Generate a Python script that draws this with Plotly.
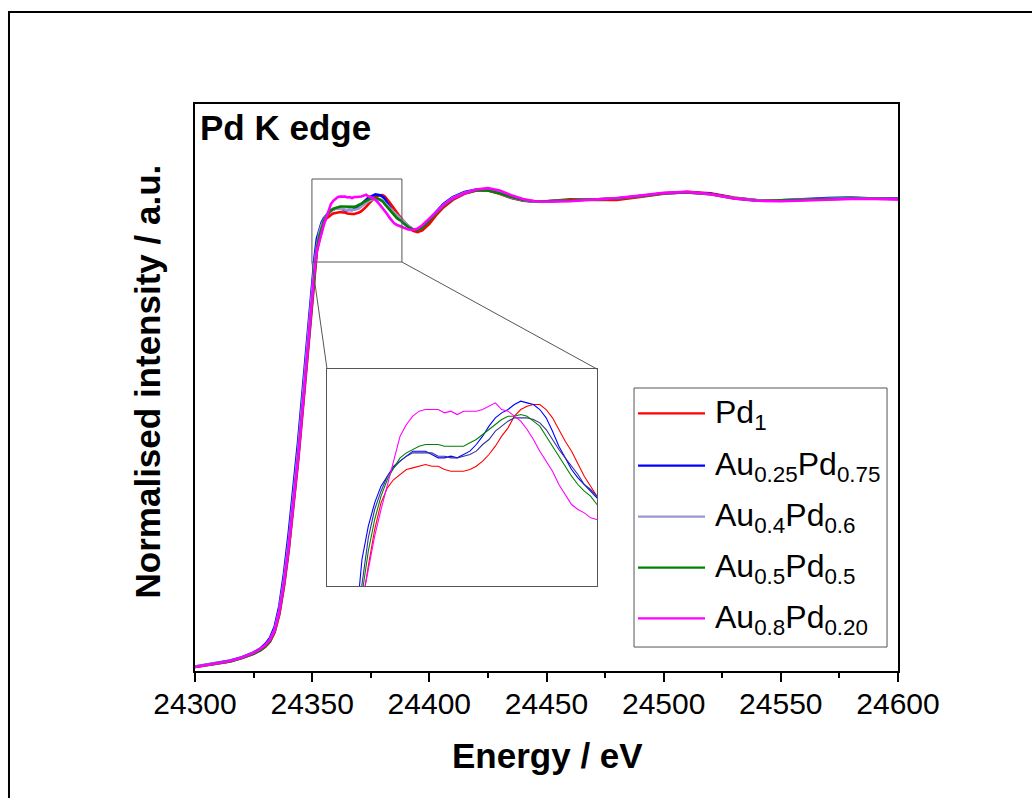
import plotly.graph_objects as go

# Photon energy grid (eV)
energy = [
    24300, 24305, 24310, 24315, 24320, 24325, 24328, 24330, 24332, 24334,
    24336, 24338, 24340, 24342, 24344, 24346, 24348, 24350, 24351,
    24352, 24353, 24354, 24355, 24356, 24357, 24358, 24359, 24360, 24361,
    24362, 24363, 24364, 24365, 24366, 24367, 24368, 24369, 24370, 24371,
    24372, 24373, 24374, 24375, 24376, 24377, 24378, 24379, 24380, 24381,
    24382, 24383, 24384, 24385, 24386, 24387, 24388, 24389,
    24391, 24393, 24395, 24397, 24400, 24403, 24406, 24410, 24415, 24420,
    24425, 24430, 24435, 24440, 24445, 24450, 24460, 24470, 24480, 24490,
    24500, 24510, 24520, 24530, 24540, 24550, 24560, 24570, 24580, 24590, 24600,
]

# Normalised absorption for each sample
pd1 = [
    0.000, 0.004, 0.008, 0.012, 0.019, 0.028, 0.036, 0.043, 0.054, 0.074,
    0.112, 0.172, 0.248, 0.338, 0.438, 0.548, 0.665, 0.780, 0.838,
    0.885, 0.909, 0.931, 0.947, 0.956, 0.961, 0.964, 0.967, 0.968, 0.969,
    0.970, 0.969, 0.969, 0.967, 0.966, 0.966, 0.966, 0.967, 0.969, 0.972,
    0.976, 0.981, 0.987, 0.992, 0.999, 1.003, 1.005, 1.006, 1.006, 1.003,
    0.998, 0.991, 0.984, 0.978, 0.970, 0.963, 0.957, 0.951,
    0.939, 0.930, 0.927, 0.931, 0.945, 0.964, 0.980, 0.996, 1.009, 1.016,
    1.016, 1.009, 1.000, 0.994, 0.992, 0.993, 0.997, 0.996, 0.996, 1.002,
    1.009, 1.013, 1.010, 1.001, 0.995, 0.994, 0.996, 0.998, 0.999, 0.999, 0.998,
]
au25_pd75 = [
    0.001, 0.005, 0.009, 0.014, 0.021, 0.031, 0.040, 0.049, 0.062, 0.086,
    0.130, 0.200, 0.285, 0.380, 0.480, 0.592, 0.705, 0.820, 0.872,
    0.913, 0.933, 0.947, 0.957, 0.963, 0.969, 0.972, 0.975, 0.978, 0.978,
    0.978, 0.976, 0.974, 0.974, 0.975, 0.974, 0.976, 0.978, 0.982, 0.987,
    0.993, 0.998, 1.001, 1.003, 1.006, 1.008, 1.007, 1.006, 1.003, 0.998,
    0.990, 0.981, 0.974, 0.967, 0.962, 0.958, 0.954, 0.950,
    0.940, 0.933, 0.932, 0.938, 0.954, 0.971, 0.987, 1.002, 1.013, 1.018,
    1.017, 1.010, 1.001, 0.995, 0.992, 0.993, 0.995, 0.996, 0.999, 1.004,
    1.010, 1.012, 1.009, 1.000, 0.995, 0.995, 0.998, 1.000, 1.001, 0.999, 0.999,
]
au40_pd60 = [
    0.001, 0.005, 0.009, 0.013, 0.020, 0.030, 0.038, 0.046, 0.058, 0.080,
    0.122, 0.188, 0.268, 0.360, 0.462, 0.575, 0.690, 0.805, 0.858,
    0.898, 0.926, 0.943, 0.954, 0.963, 0.968, 0.972, 0.975, 0.977, 0.977,
    0.977, 0.977, 0.975, 0.975, 0.974, 0.974, 0.975, 0.976, 0.978, 0.982,
    0.985, 0.990, 0.993, 0.996, 0.998, 0.998, 0.998, 0.997, 0.995, 0.991,
    0.985, 0.979, 0.974, 0.969, 0.964, 0.958, 0.955, 0.951,
    0.941, 0.934, 0.932, 0.937, 0.952, 0.969, 0.985, 1.000, 1.011, 1.017,
    1.017, 1.010, 1.001, 0.995, 0.992, 0.993, 0.995, 0.996, 0.999, 1.004,
    1.010, 1.012, 1.008, 1.000, 0.995, 0.995, 0.997, 0.999, 1.000, 0.999, 0.998,
]
au50_pd50 = [
    0.000, 0.004, 0.008, 0.012, 0.019, 0.028, 0.036, 0.044, 0.055, 0.076,
    0.115, 0.177, 0.254, 0.345, 0.446, 0.556, 0.672, 0.788, 0.846,
    0.892, 0.918, 0.937, 0.951, 0.961, 0.968, 0.974, 0.977, 0.979, 0.981,
    0.982, 0.982, 0.982, 0.981, 0.981, 0.981, 0.981, 0.983, 0.985, 0.988,
    0.991, 0.994, 0.997, 0.999, 0.999, 1.000, 0.999, 0.996, 0.993, 0.987,
    0.981, 0.975, 0.969, 0.963, 0.958, 0.954, 0.951, 0.946,
    0.938, 0.933, 0.932, 0.936, 0.951, 0.968, 0.983, 0.998, 1.010, 1.016,
    1.016, 1.010, 1.002, 0.996, 0.993, 0.993, 0.995, 0.996, 0.999, 1.004,
    1.010, 1.012, 1.008, 0.999, 0.994, 0.995, 0.997, 0.998, 0.999, 0.999, 0.998,
]
au80_pd20 = [
    0.000, 0.004, 0.008, 0.013, 0.020, 0.030, 0.039, 0.047, 0.058, 0.078,
    0.118, 0.180, 0.255, 0.345, 0.445, 0.556, 0.675, 0.790, 0.845,
    0.887, 0.907, 0.927, 0.943, 0.958, 0.973, 0.987, 0.994, 0.999, 1.002,
    1.003, 1.003, 1.003, 1.001, 1.002, 1.000, 1.002, 1.002, 1.002, 1.003,
    1.005, 1.007, 1.003, 1.002, 0.999, 0.996, 0.991, 0.985, 0.978, 0.972,
    0.966, 0.958, 0.952, 0.946, 0.943, 0.941, 0.938, 0.937,
    0.933, 0.932, 0.935, 0.942, 0.955, 0.970, 0.985, 0.999, 1.010, 1.018,
    1.021, 1.016, 1.006, 0.998, 0.993, 0.992, 0.993, 0.996, 1.000, 1.005,
    1.011, 1.013, 1.008, 0.999, 0.994, 0.993, 0.995, 0.997, 0.998, 0.998, 0.997,
]

series = [pd1, au25_pd75, au40_pd60, au50_pd50, au80_pd20]
series_names = [
    "Pd<sub>1</sub>",
    "Au<sub>0.25</sub>Pd<sub>0.75</sub>",
    "Au<sub>0.4</sub>Pd<sub>0.6</sub>",
    "Au<sub>0.5</sub>Pd<sub>0.5</sub>",
    "Au<sub>0.8</sub>Pd<sub>0.20</sub>",
]
series_colors = ["#ff0000", "#0000ff", "#9999cc", "#008000", "#ff00ff"]
inset_colors = ["#ff0000", "#0000ff", "#333399", "#008000", "#ff00ff"]

x_ticks = [24300, 24350, 24400, 24450, 24500, 24550, 24600]

X_RANGE = [24300, 24600]
Y_RANGE = [-0.0085, 1.2004]
INSET_X = [24346.5, 24389.0]
INSET_Y = [0.8971, 1.0273]
INSET_DOMAIN_X = [0.1878, 0.5718]
INSET_DOMAIN_Y = [0.1499, 0.5326]
ZOOM_BOX = dict(x0=24349.9, x1=24388.3, y0=0.8635, y1=1.0405)

FONT = "Arial, Liberation Sans, sans-serif"

fig = go.Figure()

for vals, name, color in zip(series, series_names, series_colors):
    fig.add_trace(go.Scatter(
        x=energy, y=vals, mode="lines", name=name,
        line=dict(color=color, width=2.6), showlegend=False,
        xaxis="x", yaxis="y",
    ))

for vals, name, color in zip(series, series_names, inset_colors):
    fig.add_trace(go.Scatter(
        x=energy, y=vals, mode="lines", name=name,
        line=dict(color=color, width=1.1), showlegend=False,
        xaxis="x2", yaxis="y2",
    ))


def px(e):
    return (e - X_RANGE[0]) / (X_RANGE[1] - X_RANGE[0])


def py(v):
    return (v - Y_RANGE[0]) / (Y_RANGE[1] - Y_RANGE[0])


shapes = []
# outer frame around the whole figure
shapes.append(dict(type="rect", xref="paper", yref="paper",
                   x0=-0.2646, x1=1.2, y0=-0.23, y1=1.1623,
                   line=dict(color="black", width=2), layer="below"))
# zoom window on the white line
shapes.append(dict(type="rect", xref="x", yref="y", **ZOOM_BOX,
                   line=dict(color="#555555", width=1)))
# connectors from window to inset
for bx, ix in ((ZOOM_BOX["x0"], INSET_DOMAIN_X[0]), (ZOOM_BOX["x1"], INSET_DOMAIN_X[1])):
    shapes.append(dict(type="line", xref="paper", yref="paper",
                       x0=px(bx), y0=py(ZOOM_BOX["y0"]), x1=ix, y1=INSET_DOMAIN_Y[1],
                       line=dict(color="#555555", width=1)))

# legend
LEG_BOX = dict(x0=0.6245, x1=0.9844, y0=0.0423, y1=0.4991)
LEG_ROWS = [0.4545, 0.3621, 0.2722, 0.1822, 0.0929]
shapes.append(dict(type="rect", xref="paper", yref="paper", **LEG_BOX,
                   line=dict(color="#555555", width=1), fillcolor="white"))
annotations = []
for yrow, name, color in zip(LEG_ROWS, series_names, series_colors):
    shapes.append(dict(type="line", xref="paper", yref="paper",
                       x0=0.6302, x1=0.7255, y0=yrow, y1=yrow,
                       line=dict(color=color, width=2.2)))
    annotations.append(dict(xref="paper", yref="paper", x=0.7370, y=yrow,
                            xanchor="left", yanchor="middle", yshift=-1,
                            text=name, showarrow=False,
                            font=dict(family=FONT, size=32, color="black")))

annotations += [
    dict(xref="paper", yref="paper", x=0.502, y=-0.1499, xanchor="center",
         yanchor="middle", text="<b>Energy / eV</b>", showarrow=False,
         font=dict(family=FONT, size=35, color="black")),
    dict(xref="paper", yref="paper", x=-0.0669, y=0.5106, xanchor="center",
         yanchor="middle", text="<b>Normalised intensity / a.u.</b>",
         textangle=-90, showarrow=False,
         font=dict(family=FONT, size=35, color="black")),
    dict(xref="paper", yref="paper", x=0.0045, y=0.9577, xanchor="left",
         yanchor="middle", text="<b>Pd K edge</b>", showarrow=False,
         font=dict(family=FONT, size=35, color="black")),
]

fig.update_layout(
    width=1032, height=798, autosize=False,
    margin=dict(l=195, r=134, t=104, b=127),
    paper_bgcolor="white", plot_bgcolor="white",
    showlegend=False,
    font=dict(family=FONT, color="black"),
    xaxis=dict(
        range=X_RANGE, domain=[0, 1], anchor="y",
        showline=True, linecolor="black", linewidth=2, mirror=True,
        ticks="outside", ticklen=9, tickwidth=2, tickcolor="black",
        tickvals=x_ticks, ticktext=[str(t) for t in x_ticks],
        tickfont=dict(family=FONT, size=30, color="black"),
        ticklabelstandoff=-4,
        minor=dict(dtick=25, tick0=24300, ticks="outside", ticklen=5,
                   tickwidth=2, tickcolor="black", showgrid=False),
        showgrid=False, zeroline=False,
    ),
    yaxis=dict(
        range=Y_RANGE, domain=[0, 1], anchor="x",
        showline=True, linecolor="black", linewidth=2, mirror=True,
        ticks="", showticklabels=False, showgrid=False, zeroline=False,
    ),
    xaxis2=dict(
        range=INSET_X, domain=INSET_DOMAIN_X, anchor="y2",
        showline=True, linecolor="#555555", linewidth=1, mirror=True,
        ticks="", showticklabels=False, showgrid=False, zeroline=False,
    ),
    yaxis2=dict(
        range=INSET_Y, domain=INSET_DOMAIN_Y, anchor="x2",
        showline=True, linecolor="#555555", linewidth=1, mirror=True,
        ticks="", showticklabels=False, showgrid=False, zeroline=False,
    ),
    shapes=shapes,
    annotations=annotations,
)

fig.write_html("out.html")
